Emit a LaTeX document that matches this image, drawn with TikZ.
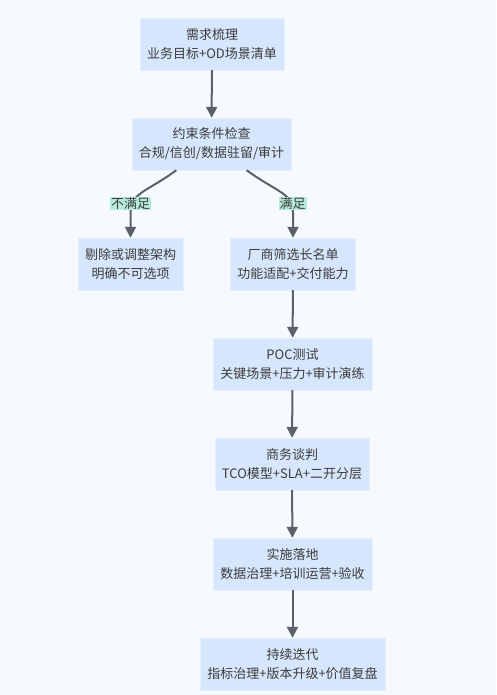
\documentclass[tikz,border=0pt]{standalone}
\usepackage{fontspec}
\setmainfont{Noto Sans CJK SC}
\usetikzlibrary{positioning, arrows.meta, calc}

\definecolor{pagebg}{HTML}{F6F9FD}
\definecolor{boxfill}{HTML}{D6E6FC}
\definecolor{boxline}{HTML}{E6EFFD}
\definecolor{arrowgray}{HTML}{5A616C}
\definecolor{textgray}{HTML}{3C3C3C}
\definecolor{labelfill}{HTML}{B6EBDA}

\begin{document}
\begin{tikzpicture}[x=1pt, y=-1pt,
    stepbox/.style={draw=boxline, fill=boxfill, text=textgray, align=center,
        minimum height=52pt, inner xsep=7pt, font=\fontsize{13}{19}\selectfont},
    flow/.style={draw=arrowgray, line width=2pt, -{Triangle[length=11pt, width=11pt]}},
    cond/.style={fill=labelfill, text=textgray, inner xsep=1pt, inner ysep=1pt,
        font=\fontsize{13}{15}\selectfont}]

    % Page background
    \fill[pagebg] (0,0) rectangle (496,695);
    \useasboundingbox (0,0) rectangle (496,695);

    % Steps
    \node[stepbox] (req)    at (212,44)    {需求梳理\\业务目标+OD场景清单};
    \node[stepbox] (check)  at (211.5,144) {约束条件检查\\合规/信创/数据驻留/审计};
    \node[stepbox] (reject) at (130.5,264) {剔除或调整架构\\明确不可选项};
    \node[stepbox] (short)  at (293,264)   {厂商筛选长名单\\功能适配+交付能力};
    \node[stepbox] (poc)    at (292.5,364) {POC测试\\关键场景+压力+审计演练};
    \node[stepbox] (deal)   at (292,464)   {商务谈判\\TCO模型+SLA+二开分层};
    \node[stepbox] (impl)   at (292.5,564) {实施落地\\数据治理+培训运营+验收};
    \node[stepbox] (iter)   at (292.5,664) {持续迭代\\指标治理+版本升级+价值复盘};

    % Straight flow
    \draw[flow] (req) -- (check);
    \draw[flow] (short) -- (poc);
    \draw[flow] (poc) -- (deal);
    \draw[flow] (deal) -- (impl);
    \draw[flow] (impl) -- (iter);

    % Branches out of the check
    \coordinate (outL) at ($(check.south west)!0.28!(check.south east)$);
    \coordinate (outR) at ($(check.south west)!0.72!(check.south east)$);
    \draw[flow] (outL) .. controls ($(outL)+(-30,22)$) and ($(reject.north)+(0,-45)$)
        .. ($(reject.north)+(0,-25)$) -- (reject.north);
    \draw[flow] (outR) .. controls ($(outR)+(30,22)$) and ($(short.north)+(0,-45)$)
        .. ($(short.north)+(0,-25)$) -- (short.north);

    % Branch labels
    \node[cond] (no)  at (130.5,203.5) {不满足};
    \node[cond] (yes) at (292.5,203.5) {满足};

\end{tikzpicture}
\end{document}
